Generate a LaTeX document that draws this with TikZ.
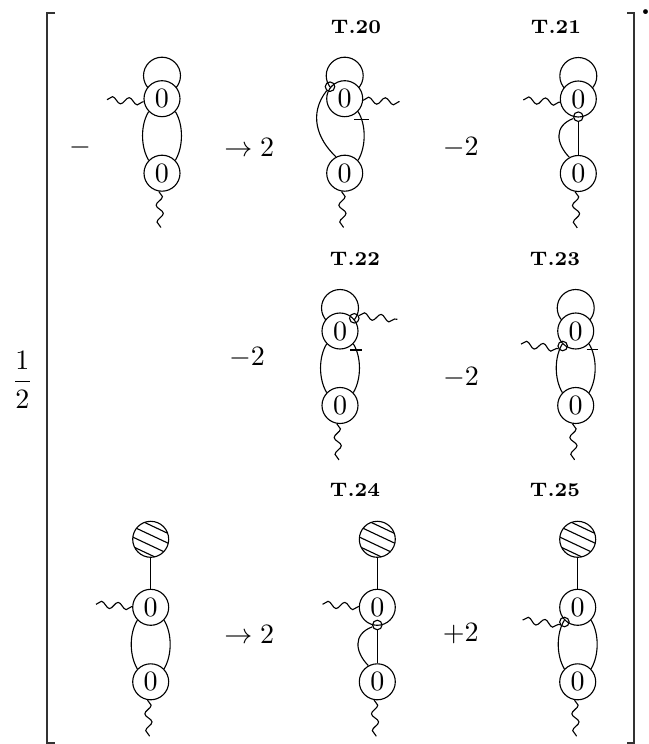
\documentclass[tikz,border=0pt]{standalone}
\usetikzlibrary{decorations.pathmorphing}
\tikzset{
  x=.357pt,y=-.357pt,
  vtx/.style={circle,draw,fill=white,inner sep=0pt,minimum size=12.85pt},
  loopc/.style={circle,draw,inner sep=0pt,minimum size=13.2pt},
  hatchc/.style={circle,draw,inner sep=0pt,minimum size=12.85pt},
  smallc/.style={circle,draw,inner sep=0pt,minimum size=3.4pt},
  wavy/.style={decorate,decoration={snake,segment length=6pt,amplitude=1.2pt}},
  brack/.style={line width=.8pt,draw=black!80},
  lab/.style={inner sep=0pt,font=\fontsize{7}{8}\selectfont\bfseries},
}
% two vertices and their bottom photon line
\newcommand{\pair}[1]{%
  \node[vtx] (#1a) at (0,0) {$0$};
  \node[vtx] (#1b) at (0,74.5) {$0$};
  \coordinate (#1e) at (-1.3,129);
  \draw[wavy] (#1b.-100) -- (#1e);
}
\newcommand{\toploop}[1]{\node[loopc] (#1l) at (0,-23) {};}
\newcommand{\lbub}[1]{\draw (#1a.-136) .. controls (-21.5,26) and (-21.5,48) .. (#1b.136);}
\newcommand{\rbub}[1]{\draw (#1a.-44) .. controls (21.5,26) and (21.5,48) .. (#1b.44);}
\newcommand{\leftwave}[1]{%
  \coordinate (#1w) at (-55,1);
  \draw[wavy] (#1w) -- (#1a.-170);
}
\newcommand{\hatched}[1]{%
  \node[hatchc] (#1h) at (0,-68) {};
  \begin{scope}
    \clip (0,-68) circle[radius=18];
    \foreach \d in {-14,-4.3,6.2,15.7}
      \draw (-20,-68-9.4+\d) -- (20,-68+9.4+\d);
  \end{scope}
  \draw (#1h) -- (#1a);
}
\newcommand{\midcut}[1]{%
  \node[smallc] (#1s) at (0,17.7) {};
  \draw (#1s) -- (#1b);
  \draw (#1s.-160) .. controls (-25,27) and (-22,45) .. (#1b.119);
}
\begin{document}
\begin{tikzpicture}
\useasboundingbox (0,0) rectangle (649,744);
\clip (0,0) rectangle (649,744);

% brackets
\coordinate (bl1) at (55,13);  \coordinate (bl2) at (47,13);
\coordinate (bl3) at (47,743); \coordinate (bl4) at (55,743);
\coordinate (br1) at (627,13); \coordinate (br2) at (634,13);
\coordinate (br3) at (634,743);\coordinate (br4) at (627,743);
\draw[brack] (bl1) -- (bl2) -- (bl3) -- (bl4);
\draw[brack] (br1) -- (br2) -- (br3) -- (br4);
\node[inner sep=0pt] (half) at (22.5,380) {$\displaystyle\frac{1}{2}$};
\node[inner sep=0pt,anchor=base] (dot) at (645.5,15) {\textbf{\large .}};

% labels
\node[lab] (t20) at (356,27) {T.20};
\node[lab] (t21) at (556,27) {T.21};
\node[lab] (t22) at (355,259) {T.22};
\node[lab] (t23) at (555,259) {T.23};
\node[lab] (t24) at (355,490) {T.24};
\node[lab] (t25) at (555,490) {T.25};

% terms
\node[inner sep=0pt] (m0) at (80,148) {$-$};
\node[inner sep=0pt] (r1) at (249.3,147) {$\rightarrow 2$};
\node[inner sep=0pt] (m1) at (460.7,148) {$-2$};
\node[inner sep=0pt] (m2) at (247,358) {$-2$};
\node[inner sep=0pt] (m3) at (461,378) {$-2$};
\node[inner sep=0pt] (r2) at (249.3,634) {$\rightarrow 2$};
\node[inner sep=0pt] (p1) at (460.7,634) {$+2$};

% row 1, first diagram
\begin{scope}[shift={(162,98.7)}]
  \toploop{A}\pair{A}\lbub{A}\rbub{A}\leftwave{A}
\end{scope}
% T.20
\begin{scope}[shift={(344.7,98.7)}]
  \toploop{B}\pair{B}\rbub{B}
  \node[smallc] (Bs) at (-14.7,-12) {};
  \draw (Bs.-130) .. controls (-36,15) and (-28,40) .. (Bb.118);
  \coordinate (Bw) at (55,3);
  \draw[wavy] (Ba.-5) -- (Bw);
  \coordinate (Bt1) at (9.3,21); \coordinate (Bt2) at (24.7,21);
  \draw (Bt1) -- (Bt2);
\end{scope}
% T.21
\begin{scope}[shift={(578.3,99)}]
  \toploop{C}\pair{C}\leftwave{C}\midcut{C}
\end{scope}
% T.22
\begin{scope}[shift={(340,331)}]
  \toploop{D}\pair{D}\lbub{D}\rbub{D}
  \node[smallc] (Ds) at (14.3,-12.7) {};
  \coordinate (Dw) at (57.3,-11.7);
  \draw[wavy] (Ds.30) -- (Dw);
  \coordinate (Dt1) at (10,19); \coordinate (Dt2) at (21.7,19);
  \draw (Dt1) -- (Dt2);
\end{scope}
% T.23
\begin{scope}[shift={(575.7,331)}]
  \toploop{E}\pair{E}\lbub{E}\rbub{E}
  \node[smallc] (Es) at (-13,15) {};
  \coordinate (Ew) at (-54.7,13);
  \draw[wavy] (Ew) -- (Es.-150);
  \coordinate (Et1) at (11,18.3); \coordinate (Et2) at (22.7,18.3);
  \draw (Et1) -- (Et2);
\end{scope}
% row 3, first diagram
\begin{scope}[shift={(150.7,607.3)}]
  \pair{F}\hatched{F}\lbub{F}\rbub{F}
  \coordinate (Fw) at (-54.7,-3);
  \draw[wavy] (Fw) -- (Fa.178);
\end{scope}
% T.24
\begin{scope}[shift={(377.3,607.3)}]
  \pair{G}\hatched{G}
  \coordinate (Gw) at (-54.7,-3);
  \draw[wavy] (Gw) -- (Ga.178);
  \midcut{G}
\end{scope}
% T.25
\begin{scope}[shift={(577.7,607.3)}]
  \pair{H}\hatched{H}\lbub{H}\rbub{H}
  \node[smallc] (Hs) at (-13.3,14.7) {};
  \coordinate (Hw) at (-55,12.7);
  \draw[wavy] (Hw) -- (Hs.-150);
\end{scope}
\end{tikzpicture}
\end{document}
